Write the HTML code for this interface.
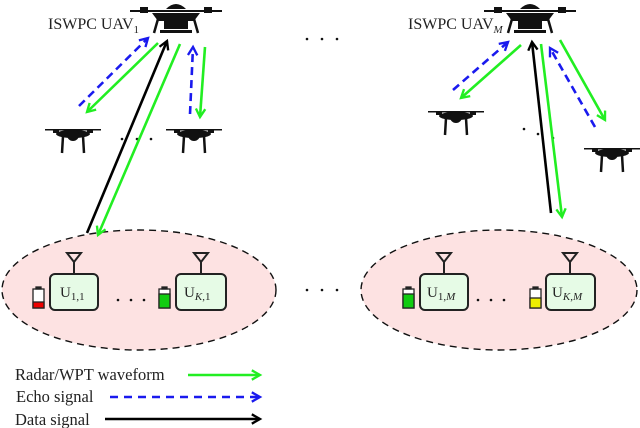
<!DOCTYPE html>
<html><head><style>body{margin:0;background:#fff}svg{display:block}text{font-family:"Liberation Serif",serif;fill:#222}</style></head><body>
<svg width="640" height="428" viewBox="0 0 640 428" xmlns="http://www.w3.org/2000/svg">
<defs>
<marker id="ag" viewBox="0 0 10 10" refX="8" refY="5" markerWidth="4.5" markerHeight="4.5" orient="auto"><path d="M1,1 L8,5 L1,9" fill="none" stroke="#22ee22" stroke-width="2"/></marker>
<marker id="ab" viewBox="0 0 10 10" refX="8" refY="5" markerWidth="4.5" markerHeight="4.5" orient="auto"><path d="M1,1 L8,5 L1,9" fill="none" stroke="#1a1aee" stroke-width="2"/></marker>
<marker id="ak" viewBox="0 0 10 10" refX="8" refY="5" markerWidth="4.5" markerHeight="4.5" orient="auto"><path d="M1,1 L8,5 L1,9" fill="none" stroke="#000" stroke-width="2"/></marker>
<g id="big">
<rect x="-46" y="-1" width="92" height="2" fill="#111"/>
<rect x="-36" y="-4" width="8" height="6" fill="#111"/><rect x="28" y="-4" width="8" height="6" fill="#111"/>
<path d="M-10,-2 Q0,-12 10,-2 Z" fill="#111"/>
<path d="M-24,2 L24,2 L18,10 L-18,10 Z" fill="#111"/>
<rect x="-12" y="10" width="24" height="8" fill="#111"/>
<path d="M-18,8 L-22,22 M18,8 L22,22" stroke="#111" stroke-width="2.5"/>
<rect x="-16" y="19" width="32" height="3" fill="#111"/>
</g>
<g id="small">
<rect x="-28" y="0" width="56" height="1.5" fill="#111"/>
<rect x="-20" y="0" width="6" height="4" fill="#111"/><rect x="14" y="0" width="6" height="4" fill="#111"/>
<ellipse cx="0" cy="5" rx="17" ry="4" fill="#111"/>
<ellipse cx="0" cy="6" rx="6" ry="6" fill="#111"/>
<path d="M-10,7 L-11,24 M10,7 L11,24" stroke="#111" stroke-width="2.5"/>
</g>
</defs>
<ellipse cx="139" cy="290" rx="137" ry="60" fill="#fde2e2" stroke="#111" stroke-dasharray="7,5" stroke-width="1.4"/>
<ellipse cx="499" cy="290" rx="138" ry="60" fill="#fde2e2" stroke="#111" stroke-dasharray="7,5" stroke-width="1.4"/>
<use href="#big" x="176" y="11"/>
<use href="#big" x="530" y="11"/>
<use href="#small" x="73" y="129"/>
<use href="#small" x="194" y="129"/>
<use href="#small" x="456" y="111"/>
<use href="#small" x="612" y="148"/>
<text x="48" y="29" font-size="16">ISWPC UAV<tspan font-size="11" dy="4">1</tspan></text>
<text x="408" y="29" font-size="16">ISWPC UAV<tspan font-size="11" font-style="italic" dy="4">M</tspan></text>
<g fill="#111"><circle cx="307" cy="39" r="1.3"/><circle cx="322" cy="39" r="1.3"/><circle cx="337" cy="39" r="1.3"/>
<circle cx="122" cy="139" r="1.3"/><circle cx="137" cy="139" r="1.3"/><circle cx="151" cy="139" r="1.3"/>
<circle cx="524" cy="129" r="1.3"/><circle cx="538" cy="134" r="1.3"/><circle cx="553" cy="138" r="1.3"/>
<circle cx="307" cy="290" r="1.3"/><circle cx="322" cy="290" r="1.3"/><circle cx="337" cy="290" r="1.3"/>
<circle cx="118" cy="300" r="1.3"/><circle cx="131" cy="300" r="1.3"/><circle cx="144" cy="300" r="1.3"/>
<circle cx="478" cy="300" r="1.3"/><circle cx="491" cy="300" r="1.3"/><circle cx="504" cy="300" r="1.3"/></g>
<g stroke-width="2.6" fill="none">
<line x1="79" y1="106" x2="148" y2="38" stroke="#1a1aee" stroke-dasharray="8,5" marker-end="url(#ab)"/>
<line x1="158" y1="43" x2="87" y2="112" stroke="#22ee22" marker-end="url(#ag)"/>
<line x1="87" y1="233" x2="167" y2="41" stroke="#000" marker-end="url(#ak)"/>
<line x1="180" y1="44" x2="98" y2="235" stroke="#22ee22" marker-end="url(#ag)"/>
<line x1="190" y1="114" x2="193" y2="47" stroke="#1a1aee" stroke-dasharray="8,5" marker-end="url(#ab)"/>
<line x1="205" y1="47" x2="200" y2="117" stroke="#22ee22" marker-end="url(#ag)"/>
<line x1="453" y1="90" x2="508" y2="42" stroke="#1a1aee" stroke-dasharray="8,5" marker-end="url(#ab)"/>
<line x1="521" y1="45" x2="461" y2="98" stroke="#22ee22" marker-end="url(#ag)"/>
<line x1="551" y1="213" x2="532" y2="42" stroke="#000" marker-end="url(#ak)"/>
<line x1="541" y1="44" x2="562" y2="217" stroke="#22ee22" marker-end="url(#ag)"/>
<line x1="560" y1="40" x2="605" y2="120" stroke="#22ee22" marker-end="url(#ag)"/>
<line x1="595" y1="127" x2="550" y2="48" stroke="#1a1aee" stroke-dasharray="8,5" marker-end="url(#ab)"/>
</g>
<g stroke="#222" stroke-width="2" fill="#e6fbe6">
<rect x="50" y="274" width="48" height="36" rx="5"/>
<rect x="176" y="274" width="50" height="36" rx="5"/>
<rect x="420" y="274" width="48" height="36" rx="5"/>
<rect x="546" y="274" width="49" height="36" rx="5"/>
</g>
<g stroke="#222" stroke-width="2" fill="none">
<path d="M67,253 L81,253 L74,262 Z M74,262 V274"/>
<path d="M194,253 L208,253 L201,262 Z M201,262 V274"/>
<path d="M437,253 L451,253 L444,262 Z M444,262 V274"/>
<path d="M563,253 L577,253 L570,262 Z M570,262 V274"/>
</g>
<g font-size="15"><text x="60" y="297">U<tspan font-size="11" dy="3">1,1</tspan></text>
<text x="184" y="297">U<tspan font-size="11" dy="3"><tspan font-style="italic">K</tspan>,1</tspan></text>
<text x="427" y="297">U<tspan font-size="11" dy="3">1,<tspan font-style="italic">M</tspan></tspan></text>
<text x="552" y="297">U<tspan font-size="11" dy="3"><tspan font-style="italic">K</tspan>,<tspan font-style="italic">M</tspan></tspan></text></g>
<g stroke="#222" stroke-width="1.3">
<rect x="33" y="289" width="11" height="19" fill="#fff"/><rect x="36" y="287" width="5" height="2" fill="#222"/><rect x="33" y="302" width="11" height="6" fill="#e00"/>
<rect x="159" y="289" width="11" height="19" fill="#fff"/><rect x="162" y="287" width="5" height="2" fill="#222"/><rect x="159" y="294" width="11" height="14" fill="#1c1"/>
<rect x="403" y="289" width="11" height="19" fill="#fff"/><rect x="406" y="287" width="5" height="2" fill="#222"/><rect x="403" y="294" width="11" height="14" fill="#1c1"/>
<rect x="530" y="289" width="11" height="19" fill="#fff"/><rect x="533" y="287" width="5" height="2" fill="#222"/><rect x="530" y="298" width="11" height="10" fill="#ee0"/>
</g>
<g font-size="16.5"><text x="15" y="380">Radar/WPT waveform</text><text x="16" y="402">Echo signal</text><text x="15" y="425">Data signal</text></g>
<g stroke-width="2.6">
<line x1="188" y1="375" x2="260" y2="375" stroke="#22ee22" marker-end="url(#ag)"/>
<line x1="110" y1="397" x2="260" y2="397" stroke="#1a1aee" stroke-dasharray="8,6" marker-end="url(#ab)"/>
<line x1="105" y1="419" x2="260" y2="419" stroke="#000" marker-end="url(#ak)"/>
</g>
</svg>
</body></html>
